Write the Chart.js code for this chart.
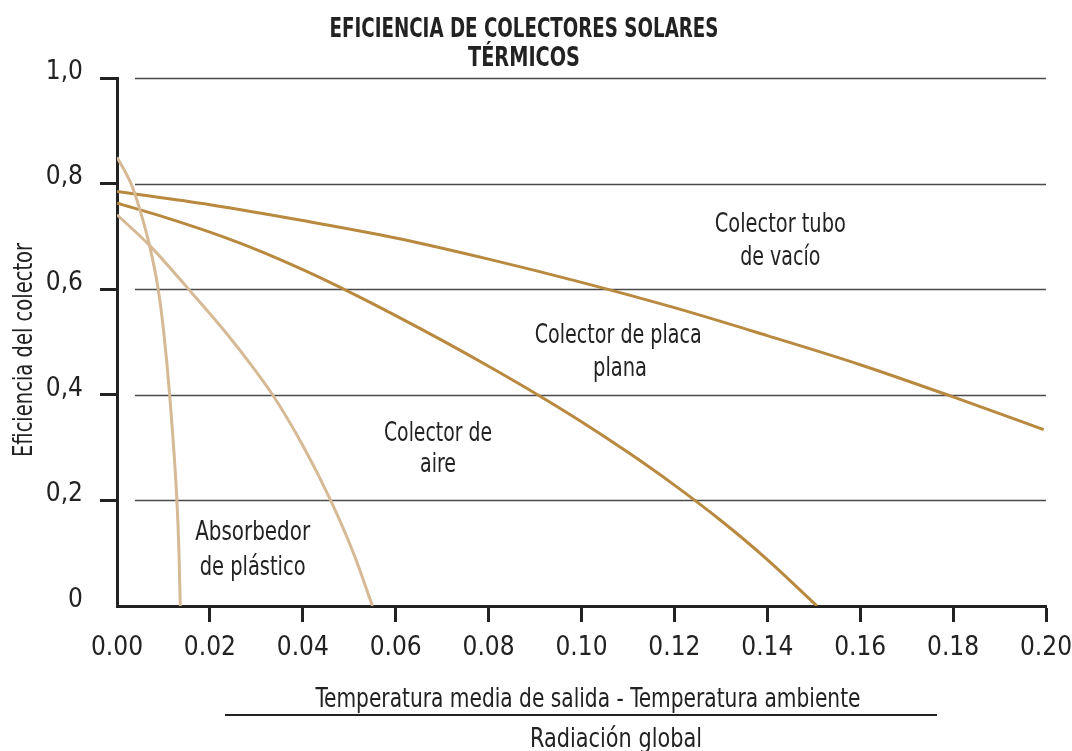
<!DOCTYPE html>
<html>
<head>
<meta charset="utf-8">
<script src="https://cdn.jsdelivr.net/npm/chart.js@4.4.0/dist/chart.umd.min.js"></script>
<style>
  html, body { margin: 0; padding: 0; background: #fff; }
  #wrap { width: 1072px; height: 751px; }
</style>
</head>
<body>
<div id="wrap"><canvas id="chart" width="1072" height="751"></canvas></div>
<script>
const FONT = '"Liberation Sans Narrow", "DejaVu Sans Condensed", Roboto, sans-serif';
const DARK = '#b8893f';
const LIGHT = '#d6b995';
const INK = '#222222';

// x: (T media salida - T ambiente) / Radiacion global ; y: eficiencia
const tuboX = [0, 0.02, 0.04, 0.06, 0.08, 0.10, 0.12, 0.14, 0.16, 0.18, 0.1995];
const tuboY = [0.785, 0.760, 0.730, 0.697, 0.657, 0.613, 0.565, 0.512, 0.457, 0.396, 0.334];

const placaX = [0, 0.01, 0.02, 0.03, 0.04, 0.05, 0.06, 0.07, 0.08, 0.09, 0.10, 0.11, 0.12, 0.13, 0.14, 0.1507];
const placaY = [0.763, 0.737, 0.708, 0.675, 0.637, 0.595, 0.550, 0.503, 0.454, 0.403, 0.349, 0.291, 0.229, 0.162, 0.088, 0];

const aireX = [0, 0.007, 0.0163, 0.0235, 0.0285, 0.0335, 0.04, 0.046, 0.051, 0.055];
const aireY = [0.741, 0.683, 0.591, 0.517, 0.461, 0.400, 0.304, 0.200, 0.098, 0];

const absX = [0, 0.00302, 0.00453, 0.00700, 0.00879, 0.01002, 0.01131, 0.01289, 0.01332, 0.01362];
const absY = [0.850, 0.800, 0.762, 0.683, 0.604, 0.522, 0.402, 0.201, 0.108, 0];

const gridValues = [0.2, 0.4, 0.6, 0.8, 1.0];

// curve captions, anchored in data units; w = text width in px
const curveLabels = [
  { text: 'Colector tubo', x: 0.1428, y: 0.708, w: 131 },
  { text: 'de vacío', x: 0.1428, y: 0.645, w: 80 },
  { text: 'Colector de placa', x: 0.1079, y: 0.499, w: 167 },
  { text: 'plana', x: 0.1083, y: 0.4365, w: 54 },
  { text: 'Colector de', x: 0.0691, y: 0.3133, w: 108 },
  { text: 'aire', x: 0.0691, y: 0.2532, w: 36 },
  { text: 'Absorbedor', x: 0.0292, y: 0.1251, w: 115 },
  { text: 'de plástico', x: 0.0292, y: 0.0584, w: 106 }
];

const toPoints = (xs, ys) => xs.map((x, i) => ({ x: x, y: ys[i] }));

const line = (label, xs, ys, color) => ({
  label: label,
  data: toPoints(xs, ys),
  borderColor: color,
  borderWidth: 3,
  pointRadius: 0,
  showLine: true,
  fill: false,
  cubicInterpolationMode: 'monotone'
});

// squeeze text horizontally to the width of the condensed face in the original
const fitText = (ctx, text, x, y, font, width) => {
  ctx.font = font;
  const w = ctx.measureText(text).width;
  ctx.save();
  ctx.translate(x, y);
  ctx.scale(width / w, 1);
  ctx.fillText(text, 0, 0);
  ctx.restore();
};

const gridPlugin = {
  id: 'gridFromGap',
  beforeDatasetsDraw(chart) {
    const ctx = chart.ctx;
    const area = chart.chartArea;
    const y = chart.scales.y;
    ctx.save();
    ctx.strokeStyle = '#4a4a4a';
    ctx.lineWidth = 1.5;
    gridValues.forEach(v => {
      const py = Math.round(y.getPixelForValue(v)) + 0.5;
      ctx.beginPath();
      ctx.moveTo(area.left + 18, py);
      ctx.lineTo(area.right, py);
      ctx.stroke();
    });
    ctx.restore();
  }
};

const textPlugin = {
  id: 'texts',
  afterDraw(chart) {
    const ctx = chart.ctx;
    const xs = chart.scales.x;
    const ys = chart.scales.y;
    ctx.save();
    ctx.fillStyle = INK;
    ctx.textAlign = 'center';
    ctx.textBaseline = 'alphabetic';

    curveLabels.forEach(l => {
      fitText(ctx, l.text, xs.getPixelForValue(l.x), ys.getPixelForValue(l.y), '26px ' + FONT, l.w);
    });

    fitText(ctx, 'EFICIENCIA DE COLECTORES SOLARES', 524, 37, 'bold 27px ' + FONT, 389);
    fitText(ctx, 'TÉRMICOS', 524, 66, 'bold 27px ' + FONT, 112);

    fitText(ctx, 'Temperatura media de salida - Temperatura ambiente', 588, 707, '26px ' + FONT, 545);
    fitText(ctx, 'Radiación global', 616, 747, '26px ' + FONT, 172);
    ctx.strokeStyle = INK;
    ctx.lineWidth = 2;
    ctx.beginPath();
    ctx.moveTo(225, 715);
    ctx.lineTo(937, 715);
    ctx.stroke();

    ctx.translate(32, 350);
    ctx.rotate(-Math.PI / 2);
    fitText(ctx, 'Eficiencia del colector', 0, 0, '27px ' + FONT, 214);
    ctx.restore();
  }
};

const hideZero = c => (c.tick && c.tick.value === 0) ? 'rgba(0,0,0,0)' : INK;

new Chart(document.getElementById('chart'), {
  type: 'scatter',
  data: {
    datasets: [
      line('Absorbedor de plástico', absX, absY, LIGHT),
      line('Colector de aire', aireX, aireY, LIGHT),
      line('Colector de placa plana', placaX, placaY, DARK),
      line('Colector tubo de vacío', tuboX, tuboY, DARK)
    ]
  },
  options: {
    responsive: false,
    animation: false,
    devicePixelRatio: 1,
    layout: { padding: { top: 78, right: 26, left: 0, bottom: 0 } },
    plugins: {
      legend: { display: false },
      tooltip: { enabled: false }
    },
    scales: {
      x: {
        type: 'linear',
        min: 0,
        max: 0.2,
        afterFit: s => { s.height = 145; s.paddingRight = 0; },
        border: { display: true, color: INK, width: 3 },
        grid: { drawOnChartArea: false, drawTicks: true, tickLength: 16, tickWidth: 3, tickColor: hideZero },
        ticks: {
          stepSize: 0.02,
          padding: 11,
          color: INK,
          font: { family: FONT, size: 26 },
          maxRotation: 0,
          callback: v => Number(v).toFixed(2)
        }
      },
      y: {
        min: 0,
        max: 1,
        afterFit: s => { s.width = 117; },
        border: { display: true, color: INK, width: 3 },
        grid: { drawOnChartArea: false, drawTicks: true, tickLength: 17, tickWidth: 3, tickColor: hideZero },
        ticks: {
          stepSize: 0.2,
          padding: 17,
          labelOffset: -6,
          color: INK,
          font: { family: FONT, size: 26 },
          callback: v => v === 0 ? '0' : Number(v).toFixed(1).replace('.', ',')
        }
      }
    }
  },
  plugins: [gridPlugin, textPlugin]
});
</script>
</body>
</html>
